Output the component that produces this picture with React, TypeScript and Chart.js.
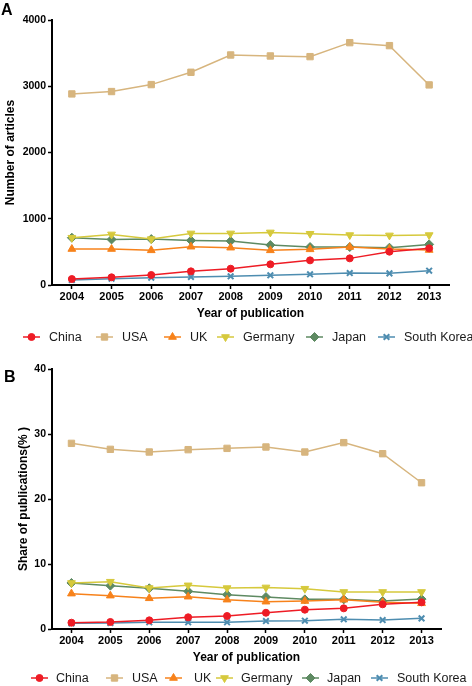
import React, { useEffect, useRef } from 'react';
import { Chart, registerables } from 'chart.js';

Chart.register(...registerables);

const years = ['2004', '2005', '2006', '2007', '2008', '2009', '2010', '2011', '2012', '2013'];
const countries = ['China', 'USA', 'UK', 'Germany', 'Japan', 'South Korea'];

const articlesChina = [90, 116, 151, 206, 246, 312, 372, 402, 503, 553];
const articlesUSA = [2884, 2920, 3025, 3211, 3472, 3457, 3447, 3658, 3613, 3020];
const articlesUK = [543, 543, 523, 578, 563, 523, 538, 573, 543, 528];
const articlesGermany = [714, 764, 693, 779, 779, 794, 774, 754, 749, 754];
const articlesJapan = [714, 688, 693, 673, 663, 603, 573, 573, 563, 613];
const articlesKorea = [75, 95, 110, 121, 131, 146, 161, 181, 176, 216];

const shareChina = [0.97, 1.08, 1.33, 1.8, 2.0, 2.5, 2.97, 3.18, 3.8, 4.1];
const shareUSA = [28.56, 27.64, 27.23, 27.59, 27.79, 28.0, 27.23, 28.67, 26.97, 22.5];
const shareUK = [5.44, 5.13, 4.72, 4.97, 4.51, 4.2, 4.3, 4.5, 4.1, 3.95];
const shareGermany = [7.08, 7.28, 6.3, 6.72, 6.3, 6.4, 6.2, 5.7, 5.7, 5.7];
const shareJapan = [7.08, 6.67, 6.26, 5.8, 5.28, 4.92, 4.56, 4.56, 4.3, 4.6];
const shareKorea = [0.87, 0.92, 1.03, 1.03, 1.03, 1.23, 1.28, 1.49, 1.38, 1.64];

const articlesTicks = [0, 1000, 2000, 3000, 4000];
const shareTicks = [0, 10, 20, 30, 40];

const colors = ['#ee1c25', '#d7b57e', '#f7821b', '#d6c93c', '#5e8a62', '#4e8db0'];
const pointStyles = ['circle', 'rect', 'triangle', 'triangle', 'rectRot', 'crossRot'];
const pointRotations = [0, 0, 0, 180, 0, 0];
const pointRadii = [3.5, 4.5, 4.5, 4.5, 4.5, 4];

const FONT = '"Liberation Sans", Arial, Helvetica, sans-serif';

function drawMarker(ctx: CanvasRenderingContext2D, style: string, x: number, y: number, r: number, rotDeg: number, color: string) {
  ctx.save();
  ctx.fillStyle = color;
  ctx.strokeStyle = color;
  ctx.lineWidth = style === 'crossRot' ? 2 : 1;
  const rad = (rotDeg * Math.PI) / 180;
  ctx.beginPath();
  if (style === 'circle') {
    ctx.arc(x, y, r, 0, Math.PI * 2);
    ctx.fill();
    ctx.stroke();
  } else if (style === 'rect') {
    const s = Math.SQRT1_2 * r;
    ctx.rect(x - s, y - s, 2 * s, 2 * s);
    ctx.fill();
    ctx.stroke();
  } else if (style === 'triangle') {
    let a = rad;
    ctx.moveTo(x + Math.sin(a) * r, y - Math.cos(a) * r);
    a += (2 * Math.PI) / 3;
    ctx.lineTo(x + Math.sin(a) * r, y - Math.cos(a) * r);
    a += (2 * Math.PI) / 3;
    ctx.lineTo(x + Math.sin(a) * r, y - Math.cos(a) * r);
    ctx.closePath();
    ctx.fill();
    ctx.stroke();
  } else if (style === 'rectRot') {
    ctx.moveTo(x - r, y);
    ctx.lineTo(x, y - r);
    ctx.lineTo(x + r, y);
    ctx.lineTo(x, y + r);
    ctx.closePath();
    ctx.fill();
    ctx.stroke();
  } else if (style === 'crossRot') {
    const d = Math.cos(Math.PI / 4) * r;
    ctx.moveTo(x - d, y - d);
    ctx.lineTo(x + d, y + d);
    ctx.moveTo(x + d, y - d);
    ctx.lineTo(x - d, y + d);
    ctx.stroke();
  }
  ctx.restore();
}

const decorPlugin = {
  id: 'decor',
  afterDraw(chart: any, _args: any, opts: any) {
    const ctx = chart.ctx as CanvasRenderingContext2D;
    ctx.save();
    ctx.font = `bold 16px ${FONT}`;
    ctx.fillStyle = '#000';
    ctx.textBaseline = 'alphabetic';
    ctx.textAlign = 'left';
    ctx.fillText(opts.letter, opts.letterX, opts.letterY);
    ctx.font = `12.5px ${FONT}`;
    ctx.textBaseline = 'middle';
    const y = opts.legendY;
    chart.data.datasets.forEach((ds: any, i: number) => {
      const x0 = opts.lineXs[i];
      ctx.strokeStyle = ds.borderColor;
      ctx.lineWidth = 1.5;
      ctx.beginPath();
      ctx.moveTo(x0, y);
      ctx.lineTo(x0 + 17, y);
      ctx.stroke();
      drawMarker(ctx, ds.pointStyle, x0 + 8.5, y, ds.pointRadius, ds.pointRotation, ds.borderColor);
      ctx.fillStyle = '#1a1a1a';
      ctx.fillText(ds.label, opts.textXs[i], y + 0.5);
    });
    ctx.restore();
  },
};

function makeDatasets(series: number[][]) {
  return series.map((data, i) => ({
    label: countries[i],
    data,
    borderColor: colors[i],
    backgroundColor: colors[i],
    borderWidth: 1.5,
    pointStyle: pointStyles[i],
    pointRotation: pointRotations[i],
    pointRadius: pointRadii[i],
    pointHoverRadius: pointRadii[i],
    pointBorderWidth: pointStyles[i] === 'crossRot' ? 2 : 1,
    pointBorderColor: colors[i],
    pointBackgroundColor: colors[i],
    tension: 0,
  }));
}

function makeConfig(series: number[][], ticks: number[], yTitle: string, layout: any, decor: any) {
  const axisCommon = {
    border: { display: true, color: '#000', width: 2 },
    grid: { display: true, drawOnChartArea: false, drawTicks: true, tickLength: 4, tickWidth: 1.5, tickColor: '#000' },
  };
  return {
    type: 'line' as const,
    data: { labels: years, datasets: makeDatasets(series) },
    options: {
      responsive: false,
      animation: false as const,
      devicePixelRatio: 1,
      layout: { padding: layout.padding },
      plugins: {
        legend: { display: false },
        tooltip: { enabled: false },
        decor,
      },
      scales: {
        x: {
          type: 'category' as const,
          offset: true,
          ...axisCommon,
          ticks: {
            color: '#000',
            padding: 1.5,
            font: { family: FONT, size: 11, weight: 'bold' as const },
            maxRotation: 0,
            autoSkip: false,
          },
          title: {
            display: true,
            text: 'Year of publication',
            color: '#000',
            padding: 0,
            font: { family: FONT, size: 12, weight: 'bold' as const },
          },
          afterFit: (s: any) => {
            s.height = layout.xHeight;
          },
        },
        y: {
          type: 'linear' as const,
          min: ticks[0],
          max: ticks[ticks.length - 1],
          ...axisCommon,
          afterBuildTicks: (s: any) => {
            s.ticks = ticks.map((v) => ({ value: v }));
          },
          ticks: {
            color: '#000',
            padding: 2,
            font: { family: FONT, size: 10.5, weight: 'bold' as const },
            callback: (v: any) => String(v),
          },
          title: {
            display: true,
            text: yTitle,
            color: '#000',
            padding: 0,
            font: { family: FONT, size: 12, weight: 'bold' as const },
          },
          afterFit: (s: any) => {
            s.width = layout.yWidth;
          },
        },
      },
    },
    plugins: [decorPlugin],
  };
}

function ChartPanel(props: { config: any; top: number; height: number }) {
  const ref = useRef<HTMLCanvasElement | null>(null);
  useEffect(() => {
    if (!ref.current) return;
    const chart = new Chart(ref.current, props.config);
    return () => chart.destroy();
  }, []);
  return (
    <canvas
      ref={ref}
      width={472}
      height={props.height}
      style={{ position: 'absolute', left: 0, top: props.top, width: 472, height: props.height, display: 'block' }}
    />
  );
}

export default function App() {
  const topConfig = makeConfig(
    [articlesChina, articlesUSA, articlesUK, articlesGermany, articlesJapan, articlesKorea],
    articlesTicks,
    'Number of articles',
    { padding: { left: 3, right: 23, top: 20, bottom: 25 }, yWidth: 49, xHeight: 36 },
    {
      letter: 'A',
      letterX: 1,
      letterY: 15,
      legendY: 337,
      lineXs: [23, 96, 164, 217, 306, 378],
      textXs: [49, 122, 190, 243, 332, 404],
    }
  );
  const bottomConfig = makeConfig(
    [shareChina, shareUSA, shareUK, shareGermany, shareJapan, shareKorea],
    shareTicks,
    'Share of publications(% )',
    { padding: { left: 16, right: 31, top: 23, bottom: 21 }, yWidth: 36, xHeight: 36 },
    {
      letter: 'B',
      letterX: 4,
      letterY: 36,
      legendY: 332,
      lineXs: [31, 106, 165, 216, 302, 371],
      textXs: [56, 132, 194, 241, 327, 397],
    }
  );
  return (
    <div style={{ position: 'absolute', left: 0, top: 0, width: 472, height: 686, background: '#fff', overflow: 'hidden' }}>
      <ChartPanel config={topConfig} top={0} height={346} />
      <ChartPanel config={bottomConfig} top={346} height={340} />
    </div>
  );
}
